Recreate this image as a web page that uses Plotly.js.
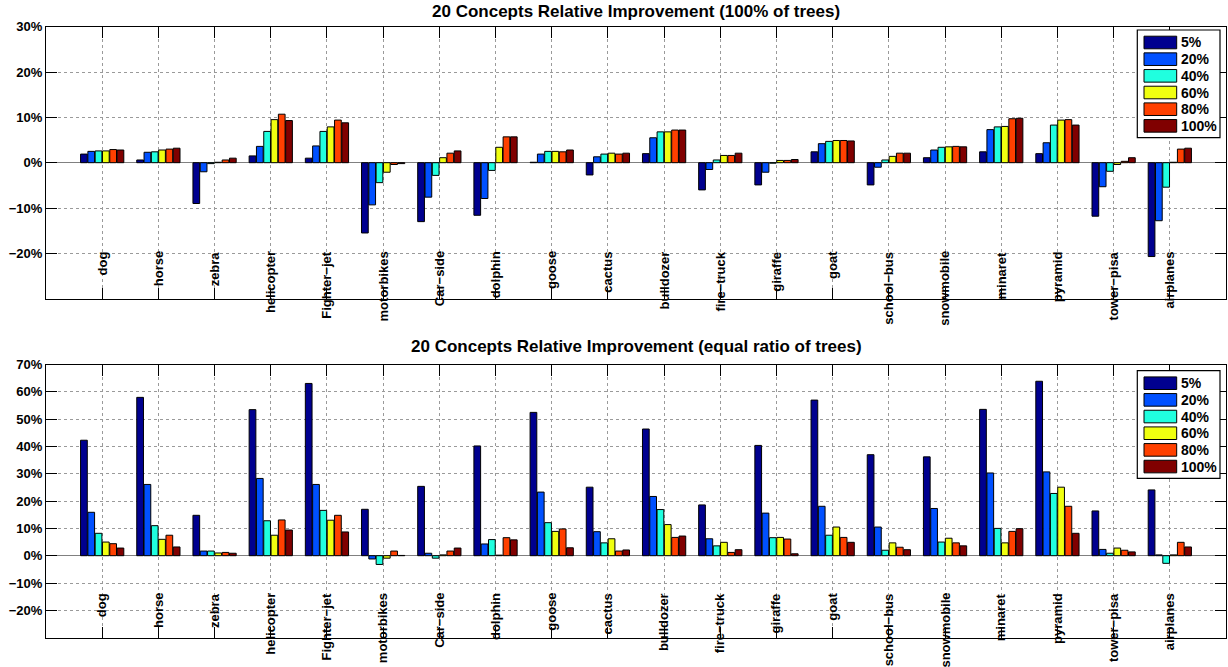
<!DOCTYPE html>
<html>
<head>
<meta charset="utf-8">
<script src="https://cdn.plot.ly/plotly-3.0.1.min.js"></script>
<style>
  html, body { margin: 0; padding: 0; background: #fff; }
  #chart { width: 1228px; height: 667px; }
</style>
</head>
<body>
<div id="chart"></div>
<script>
// ---------- data ----------
const categories = ['dog','horse','zebra','helicopter','Fighter\u2212jet','motorbikes','Car\u2212side','dolphin','goose','cactus',
  'bulldozer','fire\u2212truck','giraffe','goat','school\u2212bus','snowmobile','minaret','pyramid','tower\u2212pisa','airplanes'];
const seriesNames = ['5%','20%','40%','60%','80%','100%'];
const seriesColors = ['#00008F','#0050FF','#20FFDF','#F0FF10','#FF4000','#800000'];

const titleTop = '20 Concepts Relative Improvement (100% of trees)';
const titleBottom = '20 Concepts Relative Improvement (equal ratio of trees)';

// top chart: 100% of trees (values in %)
const full5   = [1.9, 0.6, -9.0, 1.5, 1.0, -15.5, -13.0, -11.6, 0.1, -2.7, 2.0, -6.0, -4.9, 2.4, -4.9, 1.1, 2.4, 2.0, -11.8, -20.7];
const full20  = [2.5, 2.3, -2.0, 3.6, 3.7, -9.3, -7.6, -7.9, 1.9, 1.3, 5.5, -1.5, -2.1, 4.2, -1.0, 2.8, 7.3, 4.4, -5.3, -12.8];
const full40  = [2.6, 2.4, -0.2, 6.9, 6.9, -4.4, -2.8, -1.7, 2.5, 1.9, 6.8, 0.6, -0.1, 4.7, 0.6, 3.4, 7.9, 8.3, -1.9, -5.4];
const full60  = [2.6, 2.8, 0.1, 9.5, 7.9, -2.1, 1.1, 3.4, 2.5, 2.1, 6.8, 1.6, 0.5, 4.9, 1.4, 3.5, 8.0, 9.4, -0.4, 0.1];
const full80  = [2.9, 3.0, 0.6, 10.7, 9.4, -0.4, 2.1, 5.7, 2.4, 1.9, 7.2, 1.6, 0.5, 4.9, 2.1, 3.6, 9.7, 9.5, 0.3, 3.0];
const full100 = [2.8, 3.2, 1.0, 9.3, 8.8, -0.2, 2.6, 5.7, 2.8, 2.1, 7.2, 2.1, 0.7, 4.8, 2.1, 3.5, 9.8, 8.3, 1.1, 3.2];

// bottom chart: equal ratio of trees (values in %)
const eq5   = [42.3, 58.0, 14.8, 53.5, 63.1, 17.0, 25.4, 40.2, 52.5, 25.1, 46.4, 18.6, 40.4, 57.0, 37.0, 36.2, 53.6, 63.9, 16.4, 24.1];
const eq20  = [15.9, 26.1, 1.7, 28.3, 26.1, -1.2, 0.9, 4.3, 23.3, 8.8, 21.7, 6.2, 15.6, 18.1, 10.5, 17.3, 30.3, 30.7, 2.3, 0.3];
const eq40  = [8.2, 11.0, 1.7, 12.8, 16.6, -3.2, -0.9, 5.9, 12.1, 4.7, 16.9, 3.6, 6.6, 7.5, 2.0, 5.0, 10.0, 22.8, 0.9, -2.8];
const eq60  = [5.0, 6.0, 1.0, 7.5, 13.0, -0.9, 0.3, 0.2, 8.9, 6.2, 11.4, 4.9, 6.7, 10.5, 4.7, 6.4, 4.7, 25.1, 2.8, 0.3];
const eq80  = [4.4, 7.5, 1.2, 13.1, 14.8, 1.7, 1.7, 6.6, 9.8, 1.7, 6.7, 1.2, 6.1, 6.7, 3.1, 4.7, 8.9, 18.1, 2.0, 4.9];
const eq100 = [2.8, 3.2, 0.9, 9.4, 8.7, 0.1, 2.8, 5.8, 2.9, 2.1, 7.2, 2.2, 0.7, 4.9, 2.2, 3.6, 9.9, 8.2, 1.4, 3.2];

const topTicks = [-20, -10, 0, 10, 20, 30];
const bottomTicks = [-20, -10, 0, 10, 20, 30, 40, 50, 60, 70];

// ---------- build ----------
const FONT = 'Liberation Sans, Arial, Helvetica, sans-serif';
const W = 1228, H = 667, ML = 46, MR = 2;
const PW = W - ML - MR;
const px = v => (v - ML) / PW;      // pixel x -> paper x
const py = v => 1 - v / H;          // pixel y -> paper y

const topSeries = [full5, full20, full40, full60, full80, full100];
const bottomSeries = [eq5, eq20, eq40, eq60, eq80, eq100];

const traces = [];
topSeries.forEach((vals, i) => {
  traces.push({
    type: 'bar', name: seriesNames[i], x: categories, y: vals,
    xaxis: 'x', yaxis: 'y', showlegend: false,
    marker: { color: seriesColors[i], line: { color: '#000', width: 1 } },
    hoverinfo: 'x+y+name'
  });
});
bottomSeries.forEach((vals, i) => {
  traces.push({
    type: 'bar', name: seriesNames[i], x: categories, y: vals,
    xaxis: 'x2', yaxis: 'y2', showlegend: false,
    marker: { color: seriesColors[i], line: { color: '#000', width: 1 } },
    hoverinfo: 'x+y+name'
  });
});

function xAxis(anchor) {
  return {
    type: 'category', anchor: anchor, range: [-1, categories.length],
    showticklabels: false, ticks: 'inside', ticklen: 11, tickwidth: 1, tickcolor: '#000',
    showline: true, linecolor: '#000', linewidth: 1, mirror: 'ticks',
    showgrid: true, gridcolor: '#9a9a9a', gridwidth: 1, griddash: 'dot',
    zeroline: false, fixedrange: true
  };
}
function yAxis(anchor, domain, range, ticks) {
  return {
    anchor: anchor, domain: domain, range: range,
    tickmode: 'array', tickvals: ticks, ticktext: ticks.map(v => (v < 0 ? '\u2212' + Math.abs(v) : v) + '%'),
    ticks: 'inside', ticklen: 11, tickwidth: 1, tickcolor: '#000',
    tickfont: { family: FONT, size: 13, color: '#000', weight: 'bold' },
    showline: true, linecolor: '#000', linewidth: 1, mirror: 'ticks',
    showgrid: true, gridcolor: '#9a9a9a', gridwidth: 1, griddash: 'dot',
    zeroline: true, zerolinecolor: '#808080', zerolinewidth: 1, fixedrange: true
  };
}

const annotations = [];
const shapes = [];
categories.forEach(c => {
  annotations.push({ text: c, x: c, xref: 'x', y: 0.1816, yref: 'y domain', yanchor: 'top', xanchor: 'center',
    textangle: -90, showarrow: false, font: { family: FONT, size: 13, color: '#000', weight: 'bold' } });
  annotations.push({ text: c, x: c, xref: 'x2', y: 0.1707, yref: 'y2 domain', yanchor: 'top', xanchor: 'center',
    textangle: -90, showarrow: false, font: { family: FONT, size: 13, color: '#000', weight: 'bold' } });
});
annotations.push({ text: titleTop, x: 0.5, xref: 'paper', y: py(11), yref: 'paper', yanchor: 'middle',
  showarrow: false, font: { family: FONT, size: 17, color: '#000', weight: 'bold' } });
annotations.push({ text: titleBottom, x: 0.5, xref: 'paper', y: py(346), yref: 'paper', yanchor: 'middle',
  showarrow: false, font: { family: FONT, size: 17, color: '#000', weight: 'bold' } });

// custom legend boxes (MATLAB style wide swatches)
function addLegend(boxTop) {
  const left = 1137.3, right = 1220, firstSw = boxTop + 6.2, step = 16.67, swH = 12.6;
  const bottom = firstSw + 5 * step + swH + 5.5;
  shapes.push({ type: 'rect', xref: 'paper', yref: 'paper', x0: px(left), x1: px(right), y0: py(boxTop), y1: py(bottom),
    fillcolor: '#fff', line: { color: '#000', width: 1.2 }, layer: 'above' });
  seriesNames.forEach((n, i) => {
    const t = firstSw + i * step;
    shapes.push({ type: 'rect', xref: 'paper', yref: 'paper', x0: px(1144), x1: px(1176.7), y0: py(t), y1: py(t + swH),
      fillcolor: seriesColors[i], line: { color: '#000', width: 1 }, layer: 'above' });
    annotations.push({ text: n, x: px(1179), xref: 'paper', y: py(t + swH / 2), yref: 'paper', xanchor: 'left', yanchor: 'middle',
      showarrow: false, font: { family: FONT, size: 14, color: '#000', weight: 'bold' } });
  });
}
addLegend(30);
addLegend(370.7);

const layout = {
  width: W, height: H,
  margin: { l: ML, r: MR, t: 0, b: 0 },
  paper_bgcolor: '#fff', plot_bgcolor: '#fff',
  barmode: 'group', bargap: 0.22, bargroupgap: 0.08,
  showlegend: false,
  xaxis: xAxis('y'),
  yaxis: yAxis('x', [py(298.7), py(26.7)], [-30, 30], topTicks),
  xaxis2: xAxis('y2'),
  yaxis2: yAxis('x2', [py(637.6), py(364.6)], [-30, 70], bottomTicks),
  annotations: annotations,
  shapes: shapes,
  font: { family: FONT, color: '#000' }
};

Plotly.newPlot('chart', traces, layout, { displayModeBar: false });
</script>
</body>
</html>
